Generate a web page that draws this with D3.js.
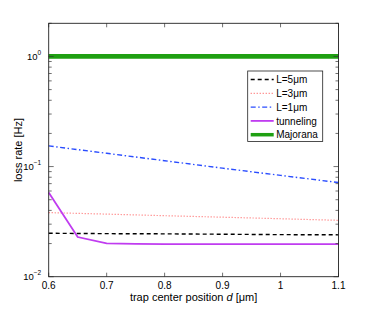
<!DOCTYPE html>
<html>
<head>
<meta charset="utf-8">
<script src="https://cdn.jsdelivr.net/npm/d3@7"></script>
<style>
  body { margin: 0; background: #fff; }
  text { font-family: "Liberation Sans", Arial, sans-serif; }
</style>
</head>
<body>
<svg id="chart"></svg>
<script>
let width = 374
let height = 312
let margin = {top: 23.3, right: 35.5, bottom: 35.3, left: 48.7}

// data
let dValues = [0.6, 0.7, 0.8, 0.9, 1.0, 1.1]
let l5Values = [0.0248, 0.0246, 0.0245, 0.0243, 0.0241, 0.0240]
let l3Values = [0.0382, 0.0370, 0.0358, 0.0347, 0.0336, 0.0325]
let l1Values = [0.154, 0.132, 0.113, 0.0967, 0.0832, 0.0716]
let tunnelD = [0.6, 0.65, 0.7, 0.75, 0.8, 0.9, 1.0, 1.1]
let tunnelValues = [0.0581, 0.0229, 0.0201, 0.0199, 0.0198, 0.0198, 0.0198, 0.0198]
let majoranaValues = [1, 1, 1, 1, 1, 1]

let xTicks = [0.6, 0.7, 0.8, 0.9, 1, 1.1]
let yTicks = [0.01, 0.1, 1]
let yExponents = ["\u22122", "\u22121", "0"]

let series = [
    {name: "L=5\u03bcm", x: dValues, y: l5Values, color: "#000000", dash: "4,3", w: 1.4},
    {name: "L=3\u03bcm", x: dValues, y: l3Values, color: "#ff6b6b", dash: "1,2", w: 1.2},
    {name: "L=1\u03bcm", x: dValues, y: l1Values, color: "#2a4dff", dash: "5,2.5,1.5,2.5", w: 1.4},
    {name: "tunneling", x: tunnelD, y: tunnelValues, color: "#c03cf0", dash: null, w: 1.8},
    {name: "Majorana", x: dValues, y: majoranaValues, color: "#1fa012", dash: null, w: 4.8}
]

let innerW = width - margin.left - margin.right
let innerH = height - margin.top - margin.bottom

let xScale = d3.scaleLinear().domain([0.6, 1.1]).range([0, innerW])
let yScale = d3.scaleLog().domain([0.01, 2]).range([innerH, 0])

let svg = d3.select("#chart")
    .attr("width", width)
    .attr("height", height)

let g = svg.append("g")
    .attr("transform", "translate(" + margin.left + "," + margin.top + ")")

// lines
let line = d3.line()
    .x(d => xScale(d[0]))
    .y(d => yScale(d[1]))

series.forEach(s => {
    g.append("path")
        .datum(s.x.map((v, i) => [v, s.y[i]]))
        .attr("d", line)
        .attr("fill", "none")
        .attr("stroke", s.color)
        .attr("stroke-width", s.w)
        .attr("stroke-dasharray", s.dash)
})

// minor log ticks
let minor = []
for (let e = -2; e <= 0; e++) {
    for (let m = 2; m <= 9; m++) {
        let v = m * Math.pow(10, e)
        if (v <= 2) minor.push(v)
    }
}

let tickColor = "#333"
minor.forEach(v => {
    g.append("line").attr("x1", 0).attr("x2", 3).attr("y1", yScale(v)).attr("y2", yScale(v)).attr("stroke", tickColor).attr("stroke-width", 0.7)
    g.append("line").attr("x1", innerW).attr("x2", innerW - 3).attr("y1", yScale(v)).attr("y2", yScale(v)).attr("stroke", tickColor).attr("stroke-width", 0.7)
})
yTicks.forEach(v => {
    g.append("line").attr("x1", 0).attr("x2", 5).attr("y1", yScale(v)).attr("y2", yScale(v)).attr("stroke", tickColor).attr("stroke-width", 0.7)
    g.append("line").attr("x1", innerW).attr("x2", innerW - 5).attr("y1", yScale(v)).attr("y2", yScale(v)).attr("stroke", tickColor).attr("stroke-width", 0.7)
})
xTicks.forEach(v => {
    g.append("line").attr("x1", xScale(v)).attr("x2", xScale(v)).attr("y1", innerH).attr("y2", innerH - 4).attr("stroke", tickColor).attr("stroke-width", 0.7)
    g.append("line").attr("x1", xScale(v)).attr("x2", xScale(v)).attr("y1", 0).attr("y2", 4).attr("stroke", tickColor).attr("stroke-width", 0.7)
})

// frame
g.append("rect")
    .attr("width", innerW)
    .attr("height", innerH)
    .attr("fill", "none")
    .attr("stroke", "#222")
    .attr("stroke-width", 0.9)

// x tick labels
g.selectAll(".xlab")
    .data(xTicks)
    .enter()
    .append("text")
    .attr("x", d => xScale(d))
    .attr("y", innerH + 12.3)
    .attr("text-anchor", "middle")
    .attr("font-size", 10)
    .text(d => d)

// y tick labels
yTicks.forEach((v, i) => {
    let t = g.append("text")
        .attr("x", -7.5)
        .attr("y", yScale(v) + 3.3)
        .attr("text-anchor", "end")
        .attr("font-size", 9.5)
    t.append("tspan").text("10")
    t.append("tspan").attr("font-size", 6.5).attr("dy", -4.5).text(yExponents[i])
})

// axis labels
let xl = svg.append("text")
    .attr("x", margin.left + innerW / 2)
    .attr("y", 300.5)
    .attr("text-anchor", "middle")
    .attr("font-size", 11)
xl.append("tspan").text("trap center position ")
xl.append("tspan").attr("font-style", "italic").text("d")
xl.append("tspan").text(" [\u03bcm]")

svg.append("text")
    .text("loss rate [Hz]")
    .attr("font-size", 11)
    .attr("text-anchor", "middle")
    .attr("transform", "translate(22,150) rotate(-90)")

// legend
let legend = svg.append("g").attr("transform", "translate(247.7,71)")
legend.append("rect")
    .attr("width", 75)
    .attr("height", 70.5)
    .attr("fill", "#fff")
    .attr("stroke", "#222")
    .attr("stroke-width", 0.8)

series.forEach((s, i) => {
    let y = 8.5 + i * 13.8
    legend.append("line")
        .attr("x1", 3).attr("x2", 26)
        .attr("y1", y).attr("y2", y)
        .attr("stroke", s.color)
        .attr("stroke-width", s.w > 3 ? 3.5 : s.w)
        .attr("stroke-dasharray", s.dash)
    legend.append("text")
        .attr("x", 28.5)
        .attr("y", y + 3.6)
        .attr("font-size", 10)
        .text(s.name)
})
</script>
</body>
</html>
